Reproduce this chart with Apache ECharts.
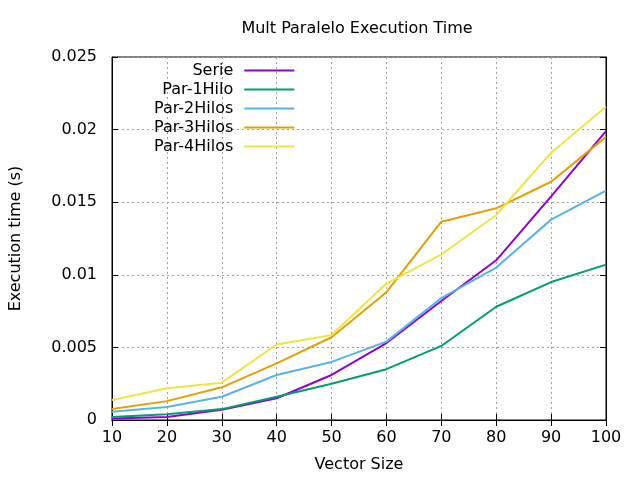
<!DOCTYPE html>
<html>
<head>
<meta charset="utf-8">
<script src="https://cdn.jsdelivr.net/npm/echarts@6/dist/echarts.min.js"></script>
<style>html,body{margin:0;padding:0;background:#fff}#c{width:640px;height:480px}</style>
</head>
<body>
<div id="c"></div>
<script>
var vectorSizes = [10, 20, 30, 40, 50, 60, 70, 80, 90, 100];
var serie    = [0.0001, 0.0002, 0.0007, 0.0015, 0.0031, 0.0053, 0.0082, 0.0110, 0.0154, 0.0199];
var par1Hilo = [0.0002, 0.0004, 0.00075, 0.0016, 0.0025, 0.0035, 0.0051, 0.0078, 0.0095, 0.0107];
var par2Hilos = [0.00057, 0.0009, 0.0016, 0.0031, 0.0040, 0.0054, 0.0084, 0.0105, 0.0138, 0.0158];
var par3Hilos = [0.00075, 0.0013, 0.00225, 0.0039, 0.0057, 0.0088, 0.01366, 0.01458, 0.01641, 0.0195];
var par4Hilos = [0.00138, 0.00218, 0.00257, 0.0052, 0.00585, 0.0094, 0.0114, 0.01412, 0.01841, 0.02158];
var seriesNames = ['Serie', 'Par-1Hilo', 'Par-2Hilos', 'Par-3Hilos', 'Par-4Hilos'];
var seriesColors = ['#9400d3', '#009e73', '#56b4e9', '#e69f00', '#f0e442'];
var seriesValues = [serie, par1Hilo, par2Hilos, par3Hilos, par4Hilos];

var FONT = 'DejaVu Sans';
function pairs(vals) { return vectorSizes.map(function (x, i) { return [x, vals[i]]; }); }

var chart = echarts.init(document.getElementById('c'), null, {renderer: 'canvas'});
var splitLine = {show: true, lineStyle: {color: '#a0a0a0', type: [2, 3], width: 1}};
chart.setOption({
  animation: false,
  backgroundColor: '#fff',
  title: {
    text: 'Mult Paralelo Execution Time',
    left: 352, top: 16, textAlign: 'center',
    textStyle: {fontFamily: FONT, fontSize: 16, fontWeight: 'normal', color: '#000'}
  },
  legend: {
    orient: 'vertical', align: 'right', left: 154, top: 61,
    padding: 0, itemGap: 0, itemWidth: 50, itemHeight: 2, icon: 'rect',
    textStyle: {fontFamily: FONT, fontSize: 16, color: '#000', lineHeight: 19, padding: [0, 6, 0, 0]},
    data: seriesNames
  },
  grid: {left: 112, right: 34, top: 57, bottom: 60, outerBoundsMode: 'none', containLabel: false,
         show: true, borderColor: '#000', borderWidth: 1},
  xAxis: [{
    type: 'value', min: 10, max: 100, interval: 10,
    name: 'Vector Size', nameLocation: 'middle', nameGap: 37,
    nameTextStyle: {fontFamily: FONT, fontSize: 16, color: '#000'},
    axisLine: {show: true, lineStyle: {color: '#000'}},
    axisTick: {show: true, inside: true, length: 6, lineStyle: {color: '#000'}},
    axisLabel: {fontFamily: FONT, fontSize: 16, color: '#000', margin: 10},
    splitLine: splitLine
  }, {
    type: 'value', min: 10, max: 100, interval: 10, position: 'top',
    axisLine: {show: true, lineStyle: {color: '#000'}},
    axisTick: {show: true, inside: true, length: 6, lineStyle: {color: '#000'}},
    axisLabel: {show: false}, splitLine: {show: false}
  }],
  yAxis: [{
    type: 'value', min: 0, max: 0.025, interval: 0.005,
    name: 'Execution time (s)', nameLocation: 'middle', nameGap: 88, nameRotate: 90,
    nameTextStyle: {fontFamily: FONT, fontSize: 16, color: '#000'},
    axisLine: {show: true, lineStyle: {color: '#000'}},
    axisTick: {show: true, inside: true, length: 6, lineStyle: {color: '#000'}},
    axisLabel: {fontFamily: FONT, fontSize: 16, color: '#000', margin: 15},
    splitLine: splitLine
  }, {
    type: 'value', min: 0, max: 0.025, interval: 0.005, position: 'right',
    axisLine: {show: true, lineStyle: {color: '#000'}},
    axisTick: {show: true, inside: true, length: 6, lineStyle: {color: '#000'}},
    axisLabel: {show: false}, splitLine: {show: false}
  }],
  series: seriesNames.map(function (n, i) {
    return {
      name: n, type: 'line', xAxisIndex: 0, yAxisIndex: 0,
      data: pairs(seriesValues[i]), symbol: 'none', showSymbol: false,
      color: seriesColors[i],
      lineStyle: {color: seriesColors[i], width: 2}
    };
  })
});
</script>
</body>
</html>
